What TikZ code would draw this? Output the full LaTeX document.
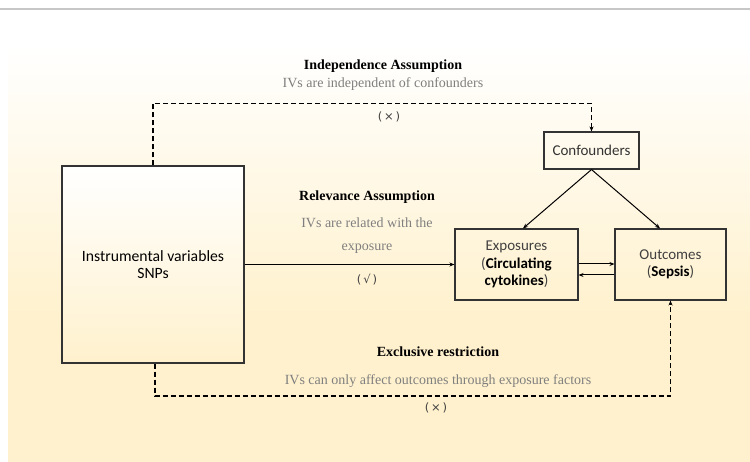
\documentclass[tikz,border=0pt]{standalone}
\usepackage{fontspec}
\setmainfont{Liberation Serif}
\newfontfamily\boxfont{Carlito}
\newfontfamily\symfont{DejaVu Sans}
\usetikzlibrary{arrows.meta}
\definecolor{cream}{HTML}{FFF1CD}
\definecolor{boxline}{HTML}{333333}
\definecolor{desc}{HTML}{7F7F7F}
\pgfdeclareverticalshading{bgshade}{100bp}{color(0bp)=(cream); color(25bp)=(cream); color(42bp)=(cream); color(75bp)=(white); color(100bp)=(white)}
\tikzset{
  framebox/.style={draw=boxline, line width=1.1pt, inner sep=0pt, align=center},
  arr/.style={line width=1pt, -{Stealth[length=5pt,width=4pt]}},
  dasharr/.style={line width=1.1pt, dash pattern=on 5pt off 3pt, -{Stealth[length=5pt,width=4pt]}},
  titletext/.style={font=\fontsize{14}{16}\selectfont\bfseries, inner sep=0pt},
  desctext/.style={font=\fontsize{14}{16}\selectfont, text=desc, inner sep=0pt},
  symlabel/.style={font=\symfont\fontsize{11.5}{13}\selectfont, text=black!75, inner sep=0pt}
}
\begin{document}
\begin{tikzpicture}[x=1pt,y=-1pt]
\useasboundingbox (0,0) rectangle (750,462);
\fill[white] (0,0) rectangle (750,462);
\draw[line width=1.2pt, color=black!22] (0,9) -- (750,9);
\shade[shading=bgshade] (8,45) rectangle (750,462);

% boxes
\node[framebox, minimum width=182pt, minimum height=197pt, top color=white, bottom color=cream,
      font=\boxfont\fontsize{15.7}{17.5}\selectfont, text=black] (iv) at (153,264.5)
      {Instrumental variables\\SNPs};
\node[framebox, minimum width=95pt, minimum height=37pt, font=\boxfont\fontsize{15}{17.5}\selectfont, text=black!80] (conf) at (591.5,150.5) {Confounders};
\node[framebox, minimum width=123pt, minimum height=71pt, font=\boxfont\fontsize{15}{17.5}\selectfont, text=black!75] (exp) at (516.5,264.5)
      {Exposures\\(\textcolor{black}{\bfseries Circulating}\\\textcolor{black}{\bfseries cytokines})};
\node[framebox, minimum width=111pt, minimum height=71pt, font=\boxfont\fontsize{15}{17.5}\selectfont, text=black!75] (out) at (670.5,264.5)
      {Outcomes\\(\textcolor{black}{\bfseries Sepsis})};

% helper coordinates
\coordinate (top) at (0,103.5);
\coordinate (bot) at (0,396);

% connectors
\draw[arr] (iv.east) -- (exp.west);
\draw[arr] (conf.south) -- ([xshift=6.5pt]exp.north);
\draw[arr] (conf.south) -- ([xshift=-10.5pt]out.north);
\draw[arr] ([yshift=0.5pt]exp.east) -- ([yshift=0.5pt]out.west);
\draw[arr] ([yshift=-10.5pt]out.west) -- ([yshift=-10.5pt]exp.east);
\draw[dasharr] (iv.north) -- (iv.north |- top) -- (conf.north |- top) -- (conf.north);
\draw[dasharr] ([xshift=2pt]iv.south) -- ([xshift=2pt]iv.south |- bot) -- (out.south |- bot) -- (out.south);

% labels
\node[titletext] (indT) at (383,66) {Independence Assumption};
\node[desctext] (indD) at (383,84) {IVs are independent of confounders};
\node[symlabel] (indM) at (389,117) {(\,×\,)};

\node[titletext] (relT) at (367,197) {Relevance Assumption};
\node[desctext] (relD1) at (367,222.5) {IVs are related with the};
\node[desctext] (relD2) at (367,248.5) {exposure};
\node[symlabel] (relM) at (367,279.5) {(\,√\,)};

\node[titletext] (excT) at (438,352) {Exclusive restriction};
\node[desctext] (excD) at (438,381) {IVs can only affect outcomes through exposure factors};
\node[symlabel] (excM) at (436,408) {(\,×\,)};
\end{tikzpicture}
\end{document}
